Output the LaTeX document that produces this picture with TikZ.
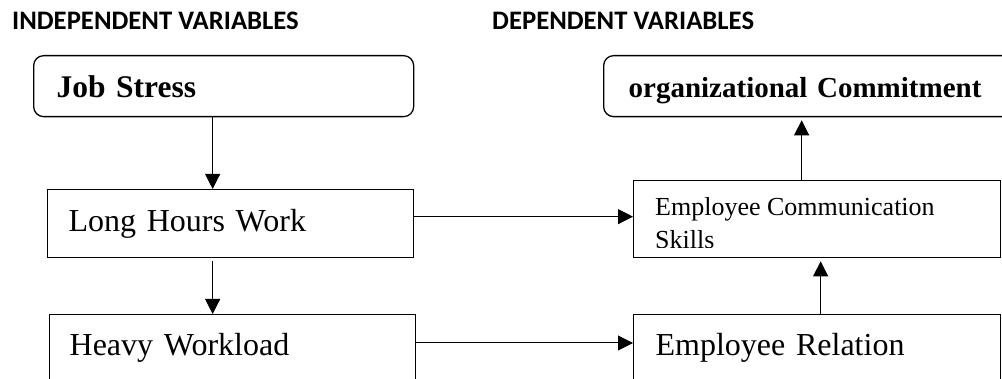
\documentclass[tikz,border=0pt]{standalone}
\usepackage{fontspec}
\setmainfont{Liberation Serif}
\newfontfamily\headfont{Carlito}
\usetikzlibrary{arrows.meta,calc}

\begin{document}
\begin{tikzpicture}[x=1pt,y=-1pt,
	box/.style={draw,line width=1.3pt,anchor=north west,inner ysep=0pt,align=left},
	rbox/.style={box,rounded corners=10pt},
	arr/.style={line width=1pt,-{Triangle[length=15pt,width=15pt]}},
	head/.style={anchor=base west,inner sep=0pt,font=\headfont\bfseries\fontsize{26.7}{30}\selectfont}]
	\useasboundingbox (0,0) rectangle (1002,379);
	\clip (0,0) rectangle (1002,379);
	% headings
	\node[head] (indep) at (12,30) {INDEPENDENT VARIABLES};
	\node[head] (dep) at (492,30) {DEPENDENT VARIABLES};
	% independent side
	\node[rbox,inner xsep=23pt,text width=334pt,text height=42pt,text depth=19pt,font=\bfseries\fontsize{31.5}{36}\selectfont] (js) at (33,55) {Job Stress};
	\node[box,inner xsep=21pt,text width=324pt,text height=42pt,text depth=26pt,font=\fontsize{32}{38}\selectfont] (lh) at (47,189) {Long Hours Work};
	\node[box,inner xsep=20pt,text width=326pt,text height=41pt,text depth=45pt,font=\fontsize{32}{38}\selectfont] (hw) at (49,314) {Heavy Workload};
	% dependent side
	\node[rbox,inner xsep=25pt,text width=400pt,text height=42pt,text depth=19pt,font=\bfseries\fontsize{29}{34}\selectfont] (oc) at (603,55) {organizational Commitment};
	\node[box,inner sep=0pt,minimum width=367pt,minimum height=77pt] (comm) at (633,180) {};
	\begin{scope}
		\clip (comm.north west) rectangle ([yshift=11pt]comm.south east);
		\node[anchor=base west,inner sep=0pt,align=left,font=\fontsize{26}{32.5}\selectfont] (commtxt) at ([xshift=22pt,yshift=-68.5pt]comm.north west) {Employee Communication\\Skills};
	\end{scope}
	\node[box,inner xsep=22pt,text width=323pt,text height=41pt,text depth=45pt,font=\fontsize{32}{38}\selectfont] (rel) at (633,314) {Employee Relation};
	% arrows
	\draw[arr] ([xshift=-11pt]js.south) -- ([xshift=-11pt]js.south |- lh.north);
	\draw[arr,shorten <=3pt] ([xshift=-18pt]lh.south) -- ([xshift=-18pt]lh.south |- hw.north);
	\draw[arr] ([yshift=7pt]lh.east) -- ([yshift=7pt]lh.east -| comm.west);
	\draw[arr] ([yshift=-29pt]hw.north east) -- ([yshift=-29pt]hw.north east -| rel.west);
	\draw[arr,shorten >=3pt] ([xshift=3.5pt]rel.north) -- ([xshift=3.5pt]rel.north |- comm.south);
	\draw[arr,shorten >=3pt] ([xshift=-15.5pt]comm.north) -- ([xshift=-15.5pt]comm.north |- oc.south);
\end{tikzpicture}
\end{document}
